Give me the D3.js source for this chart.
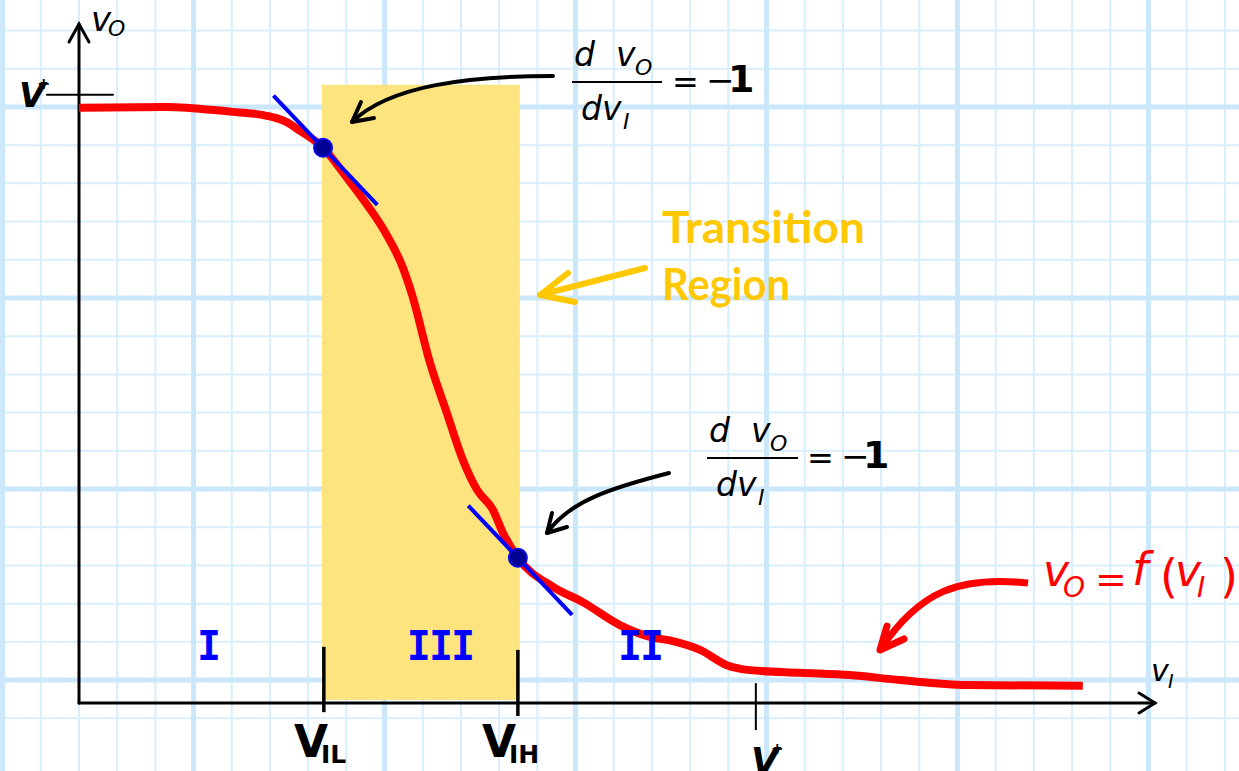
<!DOCTYPE html>
<html><head><meta charset="utf-8">
<script src="https://cdn.jsdelivr.net/npm/d3@7"></script>
<style>html,body{margin:0;padding:0;background:#fff;} svg{display:block}</style>
</head><body>
<svg id="c" width="1239" height="771"></svg>
<script>
// ---- data (v_I, v_O in grid-cell units) ----
const vI = [0.00, 2.30, 4.03, 4.60, 5.08, 5.40, 5.75, 6.39, 6.96, 7.54, 8.01, 8.48, 8.72, 9.19, 9.63, 10.05, 10.42, 10.84, 11.10, 11.49, 12.41, 13.19, 14.16, 14.95, 15.55, 16.26, 16.96, 17.57, 18.87, 20.18, 21.49, 23.25, 26.28];
const vO = [15.58, 15.60, 15.47, 15.42, 15.33, 15.22, 15.00, 14.53, 13.82, 13.04, 12.33, 11.39, 10.68, 8.90, 7.59, 6.36, 5.58, 5.05, 4.45, 3.80, 3.04, 2.64, 2.04, 1.73, 1.62, 1.39, 0.99, 0.86, 0.79, 0.73, 0.60, 0.47, 0.45];
const regionLabels = ["I", "III", "II"];
const regionCenters = [3.38, 9.45, 14.69];
const tickNames = ["VIL", "VIH", "V+"];
const tickValues = [6.41, 11.49, 17.72];
const transitionBand = [6.36, 11.54];
const bandTop = 16.18;
const vHigh = 15.92;
const tangentX = [6.39, 11.49];
const tangentY = [14.53, 3.80];
const tangentSlope = -1;

const W = 1239, H = 771;
const svg = d3.select("#c");
const x = d3.scaleLinear().domain([0, 28.17]).range([79, 1155]);
const y = d3.scaleLinear().domain([0, 17.77]).range([703, 24]);

svg.append("rect").attr("width", W).attr("height", H).attr("fill", "#fff");

// ---- grid ----
const g = svg.append("g");
const vGrid = d3.range(-2, 31), hGrid = d3.range(-1, 20).map(k => k + 0.6);
const isMajV = k => ((k + 2) % 5 + 5) % 5 === 0;
const isMajH = v => Math.round(v - 0.6) % 5 === 0;
[false, true].forEach(maj => {
  g.selectAll(null).data(vGrid.filter(k => isMajV(k) === maj)).enter().append("line")
    .attr("x1", d => x(d)).attr("x2", d => x(d)).attr("y1", 0).attr("y2", H)
    .attr("stroke", maj ? "#cbe7fb" : "#d7eefc").attr("stroke-width", maj ? 5 : 2);
  g.selectAll(null).data(hGrid.filter(v => isMajH(v) === maj)).enter().append("line")
    .attr("y1", d => y(d)).attr("y2", d => y(d)).attr("x1", 0).attr("x2", W)
    .attr("stroke", maj ? "#cbe7fb" : "#d7eefc").attr("stroke-width", maj ? 5 : 2);
});

// ---- transition band ----
svg.append("rect")
  .attr("x", x(transitionBand[0])).attr("width", x(transitionBand[1]) - x(transitionBand[0]))
  .attr("y", y(bandTop)).attr("height", y(0.08) - y(bandTop))
  .attr("fill", "#fee47f");

// ---- axes ----
const ax = svg.append("g").attr("stroke", "#000").attr("fill", "none").attr("stroke-linecap", "round");
ax.append("line").attr("x1", x(0)).attr("x2", x(0)).attr("y1", y(0)).attr("y2", y(17.77)).attr("stroke-width", 3);
ax.append("polyline").attr("points", `${x(0)-10},${y(17.77)+18} ${x(0)},${y(17.77)} ${x(0)+10},${y(17.77)+18}`).attr("stroke-width", 3);
ax.append("line").attr("x1", x(0)).attr("x2", x(28.17)).attr("y1", y(0)).attr("y2", y(0)).attr("stroke-width", 3);
ax.append("polyline").attr("points", `${x(28.17)-16},${y(0)-10} ${x(28.17)},${y(0)} ${x(28.17)-16},${y(0)+10}`).attr("stroke-width", 3);
// V+ tick on y axis
ax.append("line").attr("x1", x(-0.84)).attr("x2", x(0.89)).attr("y1", y(vHigh)).attr("y2", y(vHigh)).attr("stroke-width", 2);
// x ticks
const tickExt = [[1.47, -0.24], [1.39, -0.34], [0.52, -0.71]];
tickValues.forEach((t, i) => {
  ax.append("line").attr("x1", x(t)).attr("x2", x(t))
    .attr("y1", y(tickExt[i][0])).attr("y2", y(tickExt[i][1]))
    .attr("stroke-width", i < 2 ? 3.5 : 2).attr("stroke-linecap", "butt");
});

// ---- curve ----
const pts = vI.map((d, i) => [d, vO[i]]);
svg.append("path").datum(pts)
  .attr("d", d3.line().x(d => x(d[0])).y(d => y(d[1])).curve(d3.curveMonotoneX))
  .attr("fill", "none").attr("stroke", "#ff0000").attr("stroke-width", 8)
  .attr("stroke-linecap", "butt").attr("stroke-linejoin", "round");

// ---- tangents & dots ----
tangentX.forEach((tx, i) => {
  const ty = tangentY[i];
  const a = -1.3, b = 1.42;
  svg.append("line")
    .attr("x1", x(tx + a)).attr("y1", y(ty + tangentSlope * a * 1.05))
    .attr("x2", x(tx + b)).attr("y2", y(ty + tangentSlope * b * 1.05))
    .attr("stroke", "#0000ff").attr("stroke-width", 4);
  svg.append("circle").attr("cx", x(tx)).attr("cy", y(ty)).attr("r", 9)
    .attr("fill", "#000094").attr("stroke", "#0a0ae6").attr("stroke-width", 2);
});

// ---- region labels ----
regionLabels.forEach((l, i) => {
  svg.append("text").attr("x", x(regionCenters[i])).attr("y", 660)
    .attr("text-anchor", "middle").attr("font-family", "'DejaVu Sans Mono', monospace")
    .attr("font-weight", "bold").attr("font-size", 40).attr("letter-spacing", -2)
    .attr("fill", "#0000ff").text(l);
});

// ---- texts ----
const it = "'DejaVu Sans', sans-serif";
function txt(px, py, s, size, opts = {}) {
  const t = svg.append("text").attr("x", px).attr("y", py).attr("font-size", size)
    .attr("font-family", opts.family || it).attr("fill", opts.fill || "#000")
    .attr("font-style", opts.italic ? "italic" : "normal")
    .attr("font-weight", opts.bold ? "bold" : "normal").text(s);
  if (opts.len) t.attr("textLength", opts.len).attr("lengthAdjust", "spacingAndGlyphs");
  if (opts.anchor) t.attr("text-anchor", opts.anchor);
  return t;
}
// y-axis label v_O
txt(91, 31, "v", 34, {italic: true});
txt(108, 36, "O", 22, {italic: true});
// V+ on y axis
txt(19, 107, "V", 34, {italic: true, bold: true});
txt(37, 89, "+", 16, {bold: true});
// v_I on x axis
txt(1151, 681, "v", 30, {italic: true});
txt(1168, 688, "I", 19, {italic: true});
// x tick labels
txt(294, 757, "V", 44, {bold: true});
txt(321, 763, "IL", 25, {bold: true});
txt(482, 757, "V", 44, {bold: true});
txt(509, 763, "IH", 25, {bold: true});
txt(751, 773, "V", 36, {italic: true, bold: true});
txt(771, 754, "+", 15, {bold: true});

// formulas
function formula(fx, fy, lineW) {
  txt(fx + 2, fy - 16, "d", 33, {italic: true});
  txt(fx + 44, fy - 16, "v", 33, {italic: true});
  txt(fx + 63, fy - 7, "O", 22, {italic: true});
  svg.append("line").attr("x1", fx).attr("x2", fx + lineW).attr("y1", fy).attr("y2", fy)
    .attr("stroke", "#000").attr("stroke-width", 2);
  txt(fx + 9, fy + 38, "dv", 33, {italic: true});
  txt(fx + 51, fy + 47, "I", 22, {italic: true});
  txt(fx + 100, fy + 11, "=", 32, {});
  txt(fx + 134, fy + 10, "−", 34, {});
  txt(fx + 156, fy + 10, "1", 38, {bold: true});
}
formula(572, 82, 90);
formula(707, 458, 91);

// Transition Region
txt(662, 243, "Transition", 44, {family: "Lato, 'Open Sans', sans-serif", bold: true, fill: "#ffc800", len: 203});
txt(662, 300, "Region", 44, {family: "Lato, 'Open Sans', sans-serif", bold: true, fill: "#ffc800", len: 128});

// red formula
const red = {italic: true, fill: "#ff0000"};
txt(1043, 586, "v", 44, red);
txt(1063, 597, "O", 28, red);
txt(1095, 592, "=", 38, {fill: "#ff0000"});
txt(1132, 585, "f", 46, red);
txt(1160, 592, "(", 46, {fill: "#ff0000"});
txt(1175, 586, "v", 44, red);
txt(1197, 597, "I", 28, red);
txt(1220, 592, ")", 46, {fill: "#ff0000"});

// ---- arrows ----
const arr = svg.append("g").attr("fill", "none").attr("stroke-linecap", "round").attr("stroke-linejoin", "round");
arr.append("path").attr("d", "M553,76 C470,76 390,85 352,122").attr("stroke", "#000").attr("stroke-width", 4);
arr.append("path").attr("d", "M361,102 L352,122 L374,118").attr("stroke", "#000").attr("stroke-width", 4);
arr.append("path").attr("d", "M669,473 C615,487 570,500 547,533").attr("stroke", "#000").attr("stroke-width", 4);
arr.append("path").attr("d", "M552,513 L547,533 L567,527").attr("stroke", "#000").attr("stroke-width", 4);
arr.append("path").attr("d", "M645,268 L540,295").attr("stroke", "#ffc800").attr("stroke-width", 6);
arr.append("path").attr("d", "M568,273 L540,295 L575,302").attr("stroke", "#ffc800").attr("stroke-width", 6);
arr.append("path").attr("d", "M1028,583 C960,576 920,590 880,650").attr("stroke", "#ff0000").attr("stroke-width", 7).attr("stroke-linecap", "butt");
arr.append("path").attr("d", "M887,626 L880,650 L904,639").attr("stroke", "#ff0000").attr("stroke-width", 7);
</script>
</body></html>
